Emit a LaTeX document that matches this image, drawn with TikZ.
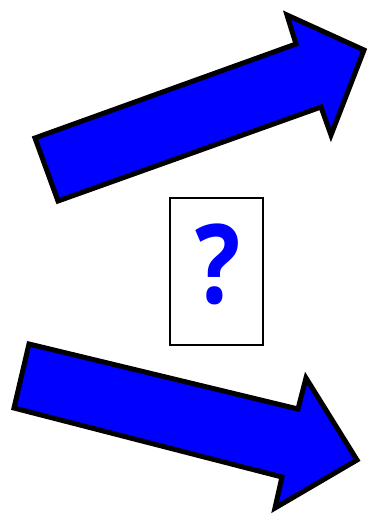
\documentclass[tikz,border=0pt]{standalone}
\usepackage{fontspec}
\newfontfamily\qfont[FakeStretch=0.86]{Open Sans}
\begin{document}
\begin{tikzpicture}[x=1pt,y=-1pt,
  bigarrow/.style={draw=black,fill=blue,line width=5pt,line join=miter},
  qbox/.style={draw=black,line width=1.3pt,minimum width=93pt,minimum height=147pt,inner sep=0pt},
  qmark/.style={text=blue,font=\qfont\bfseries\fontsize{110}{110}\selectfont}]
\useasboundingbox (0,0) rectangle (367,517);
% top arrow
\draw[bigarrow] (35,138) -- (296,44) -- (287,15) -- (364,50) -- (331,135) -- (321,107) -- (58,201) -- cycle;
% bottom arrow
\draw[bigarrow] (29,344) -- (298,409) -- (306,378) -- (357,460) -- (275,508) -- (282,477) -- (14,408) -- cycle;
% box with question mark
\node[qbox] (box) at (216.5,271.5) {};
\node[qmark,anchor=base] (q) at (218.5,303) {?};
\end{tikzpicture}
\end{document}
